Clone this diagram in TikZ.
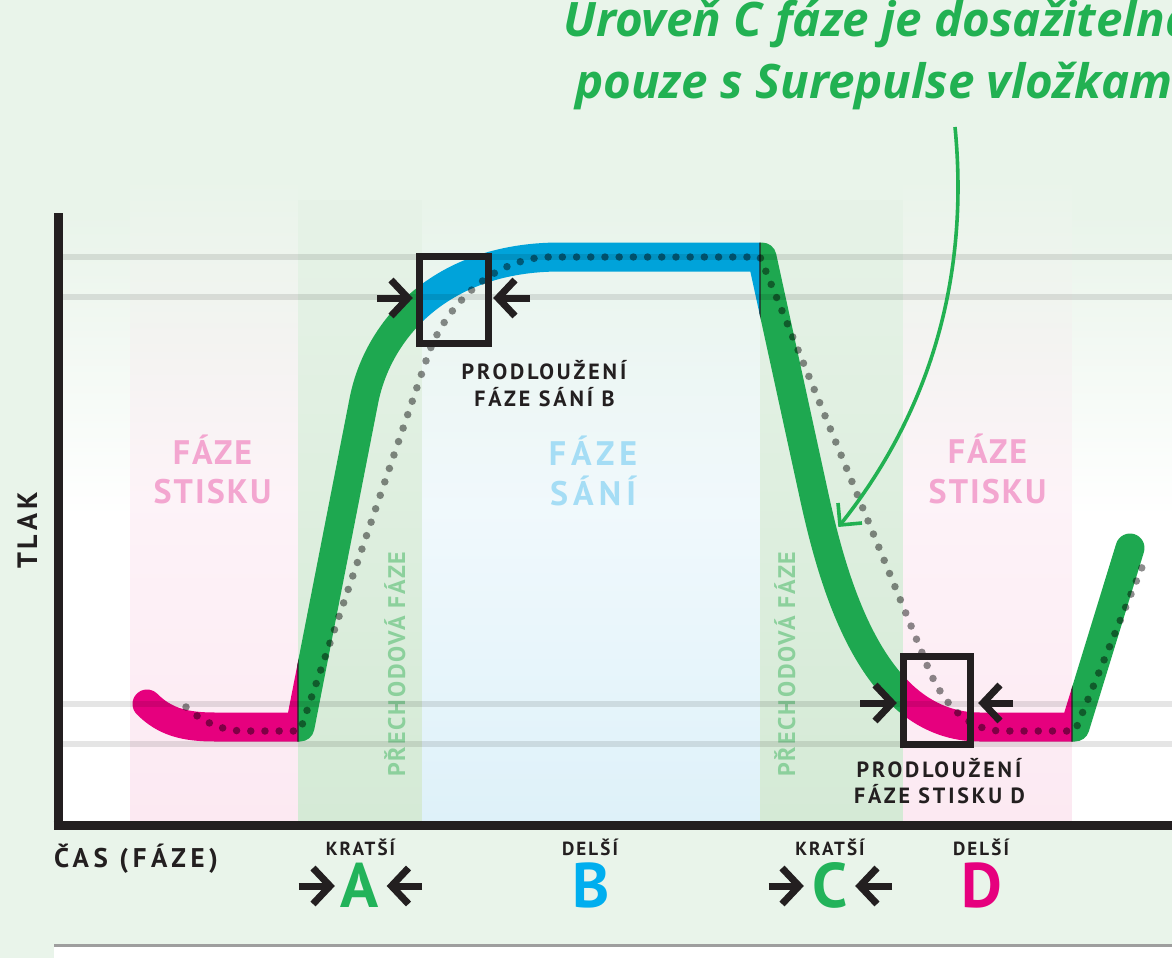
\documentclass[tikz,border=0pt]{standalone}
\usepackage{fontspec}
\setmainfont{PT Sans}
\newfontfamily\titlefont{Open Sans}
\usetikzlibrary{calc}
\definecolor{bg}{RGB}{233,244,234}
\definecolor{mgreen}{RGB}{30,168,80}
\definecolor{mblue}{RGB}{0,163,218}
\definecolor{mpink}{RGB}{230,0,126}
\definecolor{tgreen}{RGB}{34,177,82}
\definecolor{ink}{RGB}{35,31,32}
\definecolor{pinktxt}{RGB}{243,166,208}
\definecolor{bluetxt}{RGB}{165,221,245}
\definecolor{greentxt}{RGB}{140,208,156}
\definecolor{bandpink}{RGB}{252,233,242}
\definecolor{bandblue}{RGB}{222,241,249}
\definecolor{bandgreen}{RGB}{213,234,214}
\definecolor{letB}{RGB}{0,174,239}
\definecolor{letG}{RGB}{34,179,90}
\tikzset{
  curve/.style={line width=29pt, line join=round, line cap=round},
  hline/.style={line width=6pt, black, opacity=0.1},
  dots/.style={line width=7.5pt, line cap=round, dash pattern=on 0pt off 14.2pt, black, opacity=0.45},
  box/.style={draw=ink, line width=7pt, inner sep=0pt},
  shaft/.style={draw=ink, line width=7pt},
  chev/.style={draw=ink, line width=7pt, line join=miter},
  axisline/.style={draw=ink, line width=9pt},
  pics/chevR/.style={code={\draw[chev] (-17,-18) -- (0,0) -- (-17,18);}},
  annot/.style={draw=tgreen, line width=3.6pt},
  lbl/.style={font=\bfseries\fontsize{22}{26}\selectfont\addfontfeature{LetterSpace=13}, text=ink, inner sep=0pt, anchor=base},
  phase/.style={font=\bfseries\fontsize{34}{40}\selectfont\addfontfeature{LetterSpace=6}, inner sep=0pt, anchor=base},
  phaseb/.style={font=\bfseries\fontsize{34}{40}\selectfont\addfontfeature{LetterSpace=15}, inner sep=0pt, anchor=base, text=bluetxt},
  trans/.style={font=\bfseries\fontsize{24}{28}\selectfont\addfontfeature{LetterSpace=7.5}, inner sep=0pt, anchor=base, rotate=90, text=greentxt},
  small/.style={font=\bfseries\fontsize{19}{22}\selectfont\addfontfeature{LetterSpace=11}, inner sep=0pt, anchor=base, text=ink},
  big/.style={font=\bfseries\fontsize{63}{70}\selectfont, inner sep=0pt, anchor=base},
  title/.style={font=\titlefont\bfseries\itshape\fontsize{47.5}{52}\selectfont, inner sep=0pt, anchor=base west, text=tgreen},
}
\def\mainpath{(147,704) .. controls (165,722) and (185,727) .. (215,727) -- (300,727) -- (364,400) .. controls (378,330) and (440,257) .. (560,257) -- (762,257) -- (815,500) .. controls (835,590) and (875,727) .. (980,727) -- (1075,727) -- (1130,548)}
\begin{document}
\begin{tikzpicture}[x=1pt,y=-1pt]
\useasboundingbox (0,0) rectangle (1172,958);
% background
\fill[bg] (0,0) rectangle (1172,958);
\fill[white] (54,946) rectangle (1172,958);
\draw[black!38, line width=3pt] (54,945) -- (1172,945);
% bands
\shade[top color=bg, bottom color=white, middle color=white] (62,213) rectangle (130,821);
\shade[top color=bg, bottom color=bandpink, middle color=bandpink!55!white] (130,177) rectangle (298,821);
\shade[top color=bandgreen!15!bg, bottom color=bandgreen, middle color=bandgreen!55!bg] (298,200) rectangle (422,821);
\shade[top color=bg, bottom color=bandblue, middle color=bandblue!45!white] (422,200) rectangle (760,821);
\shade[top color=bandgreen!15!bg, bottom color=bandgreen, middle color=bandgreen!55!bg] (760,200) rectangle (903,821);
\shade[top color=bg, bottom color=bandpink, middle color=bandpink!55!white] (903,177) rectangle (1072,821);
\shade[top color=bg, bottom color=white, middle color=white] (1072,213) rectangle (1172,821);
% phase texts
\node[phase, text=pinktxt] (fs1a) at (212.5,464) {FÁZE};
\node[phase, text=pinktxt] (fs1b) at (212.5,503) {STISKU};
\node[phaseb] (fsa) at (593,465) {FÁZE};
\node[phaseb] (fsb) at (593,505) {SÁNÍ};
\node[phase, text=pinktxt] (fs2a) at (987.5,463) {FÁZE};
\node[phase, text=pinktxt] (fs2b) at (987.5,503) {STISKU};
\node[trans] (tr1) at (405,664) {PŘECHODOVÁ FÁZE};
\node[trans] (tr2) at (795,664) {PŘECHODOVÁ FÁZE};
% main curve, coloured by phase
\begin{scope}\clip (0,0) rectangle (298,958); \draw[curve, mpink] \mainpath; \end{scope}
\begin{scope}\clip (298,0) rectangle (422,958); \draw[curve, mgreen] \mainpath; \end{scope}
\begin{scope}\clip (422,0) rectangle (760,958); \draw[curve, mblue] \mainpath; \end{scope}
\begin{scope}\clip (760,0) rectangle (903,958); \draw[curve, mgreen] \mainpath; \end{scope}
\begin{scope}\clip (903,0) rectangle (1072,958); \draw[curve, mpink] \mainpath; \end{scope}
\begin{scope}\clip (1072,0) rectangle (1172,958); \draw[curve, mgreen] \mainpath; \end{scope}
\foreach \xb in {298,760,1072}{
  \begin{scope}\clip (\xb-0.6,0) rectangle (\xb+0.6,958); \draw[curve, ink] \mainpath; \end{scope}
}
% grey level lines
\draw[hline] (62,257) -- (1172,257);
\draw[hline] (62,297) -- (1172,297);
\draw[hline] (62,704) -- (1172,704);
\draw[hline] (62,744) -- (1172,744);
% dotted comparison curve
\draw[dots] (186,707) .. controls (200,720) and (220,731) .. (245,731) -- (300,731) -- (428,355) .. controls (440,320) and (480,262) .. (545,257) -- (760,257) -- (925,660) .. controls (940,700) and (965,731) .. (1003,731) -- (1075,731) -- (1147,555);
% boxes
\node[box, minimum width=69pt, minimum height=87pt] (boxB) at (454,299.5) {};
\node[box, minimum width=67pt, minimum height=88pt] (boxD) at (936.5,700) {};
% arrows at box B
\coordinate (bL0) at (377,298); \coordinate (bL1) at (408,298);
\coordinate (bR0) at (530,298); \coordinate (bR1) at (498,298);
\draw[shaft] (bL0) -- (bL1); \pic at (bL1) {chevR};
\draw[shaft] (bR0) -- (bR1); \pic[rotate=180] at (bR1) {chevR};
% arrows at box D
\coordinate (dL0) at (860,703); \coordinate (dL1) at (892,703);
\coordinate (dR0) at (1013,703); \coordinate (dR1) at (983,703);
\draw[shaft] (dL0) -- (dL1); \pic at (dL1) {chevR};
\draw[shaft] (dR0) -- (dR1); \pic[rotate=180] at (dR1) {chevR};
% box labels
\node[lbl] (pB1) at (544,379) {PRODLOUŽENÍ};
\node[lbl] (pB2) at (544.5,406) {FÁZE SÁNÍ B};
\node[lbl] (pD1) at (939,777) {PRODLOUŽENÍ};
\node[lbl] (pD2) at (939.5,803) {FÁZE STISKU D};
% axes
\draw[axisline] (58,213) -- (58,830);
\draw[axisline] (53.5,825.5) -- (1172,825.5);
\node[font=\bfseries\fontsize{28}{32}\selectfont\addfontfeature{LetterSpace=14}, inner sep=0pt, anchor=base, rotate=90, text=ink] (tlak) at (37,530.5) {TLAK};
\node[font=\bfseries\fontsize{27}{32}\selectfont\addfontfeature{LetterSpace=17}, inner sep=0pt, anchor=base west, text=ink] (cas) at (54,867) {ČAS (FÁZE)};
% bottom phase letters
\node[small] (kA) at (360.5,855) {KRATŠÍ};
\node[small] (dB) at (590,855) {DELŠÍ};
\node[small] (kC) at (830,855) {KRATŠÍ};
\node[small] (dD) at (981,855) {DELŠÍ};
\node[big, text=letG] (lA) at (360,907) {A};
\node[big, text=letB] (lB) at (591,907) {B};
\node[big, text=letG] (lC) at (830,907) {C};
\node[big, text=mpink] (lD) at (982,907) {D};
\coordinate (aL0) at (298.5,886); \coordinate (aL1) at (330,886);
\coordinate (aR0) at (422,886); \coordinate (aR1) at (391.5,886);
\draw[shaft] (aL0) -- (aL1); \pic at (aL1) {chevR};
\draw[shaft] (aR0) -- (aR1); \pic[rotate=180] at (aR1) {chevR};
\coordinate (cL0) at (768.5,886); \coordinate (cL1) at (799,886);
\coordinate (cR0) at (892,886); \coordinate (cR1) at (860,886);
\draw[shaft] (cL0) -- (cL1); \pic at (cL1) {chevR};
\draw[shaft] (cR0) -- (cR1); \pic[rotate=180] at (cR1) {chevR};
% title and annotation arrow
\node[title] (t1) at (563,37) {Uroveň C fáze je dosažitelná};
\node[title] (t2) at (575,98) {pouze s Surepulse vložkami};
\coordinate (annS) at (955,127);
\coordinate (annT) at (840,525);
\draw[annot] (annS) .. controls (968,260) and (940,400) .. (annT);
\draw[annot, line join=miter] (862,523) -- (annT) -- (838,503);
\end{tikzpicture}
\end{document}
